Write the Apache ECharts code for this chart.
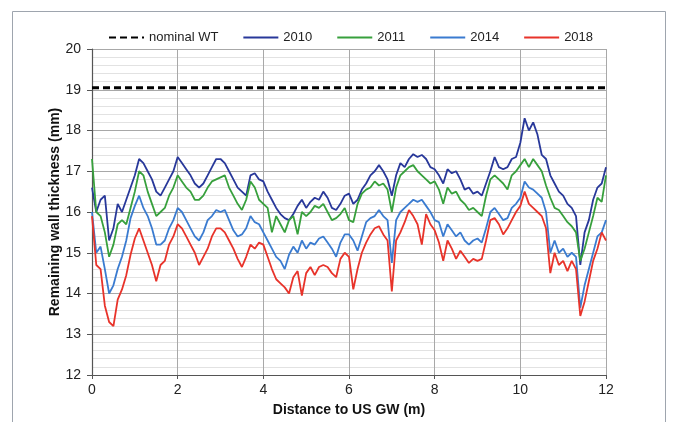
<!DOCTYPE html>
<html><head><meta charset="utf-8">
<script src="https://cdn.jsdelivr.net/npm/echarts@6/dist/echarts.min.js"></script>
<style>html,body{margin:0;padding:0;background:#fff}#c{width:679px;height:422px}</style>
</head><body><div id="c"></div>
<script>
const seriesNames = ['nominal WT', '2010', '2011', '2014', '2018'];
const nominalWT = 19.05;
const xStep = 0.1; // sample spacing in metres (0 .. 12)

const y2010 = [
 16.6,16.0,16.3,16.4,15.3,15.6,16.2,16.0,16.3,16.6,16.9,17.3,17.2,17.0,16.8,16.5,16.4,16.6,16.8,17.0,17.35,
 17.2,17.05,16.9,16.7,16.6,16.7,16.9,17.1,17.3,17.3,17.2,17.0,16.8,16.6,16.5,16.4,16.9,16.95,16.8,16.75,
 16.5,16.3,16.1,15.95,15.85,15.8,15.95,16.15,16.3,16.1,16.25,16.35,16.3,16.5,16.35,16.1,16.05,16.2,16.4,16.45,
 16.2,16.3,16.55,16.7,16.9,17.0,17.15,17.0,16.8,16.4,16.9,17.2,17.1,17.3,17.42,17.35,17.4,17.3,17.1,17.05,
 16.9,16.7,17.05,16.95,17.0,16.8,16.55,16.6,16.45,16.5,16.4,16.7,17.0,17.35,17.1,17.05,17.1,17.3,17.35,17.7,
 18.3,18.0,18.2,17.9,17.4,17.3,16.9,16.7,16.5,16.4,16.2,16.1,15.9,14.7,15.5,15.8,16.3,16.6,16.7,17.1
];
const y2011 = [
 17.3,16.0,15.9,15.5,14.9,15.2,15.7,15.8,15.7,16.1,16.5,17.0,16.9,16.5,16.2,15.9,16.0,16.1,16.4,16.6,16.9,
 16.75,16.6,16.5,16.3,16.3,16.4,16.6,16.75,16.8,16.85,16.9,16.6,16.4,16.2,16.05,16.3,16.75,16.6,16.3,16.2,
 16.1,15.5,15.9,15.7,15.5,15.8,15.9,15.45,16.0,15.9,16.0,16.15,16.1,16.2,16.0,15.8,15.85,15.95,16.1,15.8,
 15.75,16.2,16.45,16.55,16.6,16.75,16.65,16.7,16.55,16.0,16.6,16.9,17.0,17.1,17.15,17.0,16.9,16.8,16.7,16.75,
 16.55,16.2,16.6,16.45,16.5,16.3,16.2,16.05,16.1,16.0,15.9,16.4,16.8,16.9,16.8,16.7,16.55,16.9,17.0,17.15,
 17.3,17.1,17.3,17.15,17.0,16.65,16.35,16.1,16.05,15.9,15.75,15.65,15.5,14.8,15.1,15.5,15.9,16.35,16.25,16.9
];
const y2014 = [
 16.0,15.0,15.15,14.6,14.0,14.2,14.6,14.9,15.3,15.85,16.15,16.4,16.1,15.9,15.6,15.2,15.2,15.3,15.6,15.8,16.1,
 16.0,15.8,15.6,15.4,15.3,15.5,15.8,15.9,16.05,16.0,16.05,15.8,15.55,15.4,15.45,15.6,15.9,15.75,15.7,15.5,
 15.3,15.1,14.9,14.8,14.6,14.95,15.15,15.0,15.3,15.1,15.25,15.2,15.35,15.4,15.25,15.1,14.9,15.25,15.45,15.45,
 15.3,15.05,15.4,15.75,15.85,15.9,16.05,15.9,15.8,14.75,15.8,16.0,16.1,16.2,16.3,16.25,16.3,16.15,16.0,15.8,
 15.75,15.4,15.7,15.55,15.4,15.5,15.3,15.2,15.3,15.35,15.25,15.6,16.0,16.1,15.95,15.8,15.85,16.1,16.2,16.35,
 16.75,16.6,16.55,16.45,16.35,16.0,15.0,15.3,15.0,15.1,14.9,15.0,14.9,13.65,14.2,14.6,15.0,15.4,15.5,15.8
];
const y2018 = [
 15.9,14.7,14.6,13.7,13.3,13.2,13.85,14.1,14.45,14.95,15.35,15.6,15.3,15.0,14.7,14.3,14.7,14.8,15.2,15.4,15.7,
 15.6,15.4,15.2,15.0,14.7,14.9,15.1,15.4,15.6,15.6,15.5,15.3,15.1,14.85,14.65,14.9,15.2,15.1,15.25,15.2,
 14.9,14.6,14.35,14.25,14.15,14.0,14.4,14.55,13.95,14.5,14.65,14.45,14.65,14.7,14.65,14.5,14.4,14.85,15.0,14.9,
 14.1,14.6,15.0,15.25,15.45,15.6,15.65,15.45,15.3,14.05,15.3,15.5,15.75,16.05,15.9,15.7,15.2,15.95,15.7,15.55,
 15.25,14.8,15.3,15.1,14.85,15.05,14.9,14.75,14.85,14.8,14.85,15.3,15.8,15.85,15.7,15.45,15.6,15.8,16.0,16.15,
 16.5,16.2,16.1,16.0,15.9,15.6,14.5,15.0,14.7,14.8,14.55,14.8,14.6,13.45,13.8,14.3,14.8,15.1,15.5,15.3
];

const colors = { 'nominal WT': '#000000', '2010': '#28389a', '2011': '#37a03c', '2014': '#3a7bd0', '2018': '#e8332a' };
const FONT = 'Liberation Sans, Arial, sans-serif';

function pairs(arr) { return arr.map((v, i) => [+(i * xStep).toFixed(2), v]); }

const chart = echarts.init(document.getElementById('c'), null, { renderer: 'canvas' });
const lineSeries = [['2010', y2010], ['2011', y2011], ['2014', y2014], ['2018', y2018]].map(([n, d]) => ({
  name: n, type: 'line', data: pairs(d), symbol: 'none', showSymbol: false,
  lineStyle: { color: colors[n], width: 1.8 }, itemStyle: { color: colors[n] }
}));

chart.setOption({
  animation: false,
  backgroundColor: '#ffffff',
  graphic: [{
    type: 'rect', silent: true, z: -10,
    shape: { x: 12.5, y: 11.5, width: 653, height: 420 },
    style: { fill: 'none', stroke: '#9ea5ae', lineWidth: 1 }
  }],
  legend: {
    data: seriesNames, left: 103, top: 26, itemWidth: 35, itemHeight: 2, itemGap: 24,
    itemStyle: { opacity: 0 },
    textStyle: { fontSize: 13, color: '#222', fontFamily: FONT }
  },
  grid: { left: 92, right: 73, top: 49, bottom: 45 },
  xAxis: {
    type: 'value', min: 0, max: 12, interval: 2,
    name: 'Distance to US GW (m)', nameLocation: 'middle', nameGap: 28, nameMoveOverlap: false,
    nameTextStyle: { fontSize: 14, fontWeight: 'bold', color: '#111', fontFamily: FONT },
    axisLine: { show: true, lineStyle: { color: '#555', width: 1.2 } },
    axisTick: { show: true, length: 4, lineStyle: { color: '#555' } },
    axisLabel: { fontSize: 14, color: '#222', margin: 8, fontFamily: FONT },
    splitLine: { show: true, lineStyle: { color: '#a8a8a8', width: 1 } }
  },
  yAxis: {
    type: 'value', min: 12, max: 20, interval: 1,
    name: 'Remaining wall thickness (mm)', nameLocation: 'middle', nameGap: 30, nameMoveOverlap: false,
    nameTextStyle: { fontSize: 14, fontWeight: 'bold', color: '#111', fontFamily: FONT },
    axisLine: { show: true, lineStyle: { color: '#555', width: 1.2 } },
    axisTick: { show: true, length: 5, lineStyle: { color: '#555' } },
    axisLabel: { fontSize: 14, color: '#222', margin: 11, fontFamily: FONT },
    splitLine: { show: true, lineStyle: { color: '#a8a8a8', width: 1 } },
    minorTick: { show: false, splitNumber: 5 },
    minorSplitLine: { show: true, lineStyle: { color: '#e2e2e2', width: 1 } }
  },
  series: [{
    name: 'nominal WT', type: 'line', symbol: 'none', showSymbol: false,
    data: [[0, nominalWT], [12, nominalWT]],
    lineStyle: { color: colors['nominal WT'], width: 3, type: [7, 4] },
    itemStyle: { color: colors['nominal WT'] }, z: 5
  }].concat(lineSeries)
});
</script>
</body></html>
